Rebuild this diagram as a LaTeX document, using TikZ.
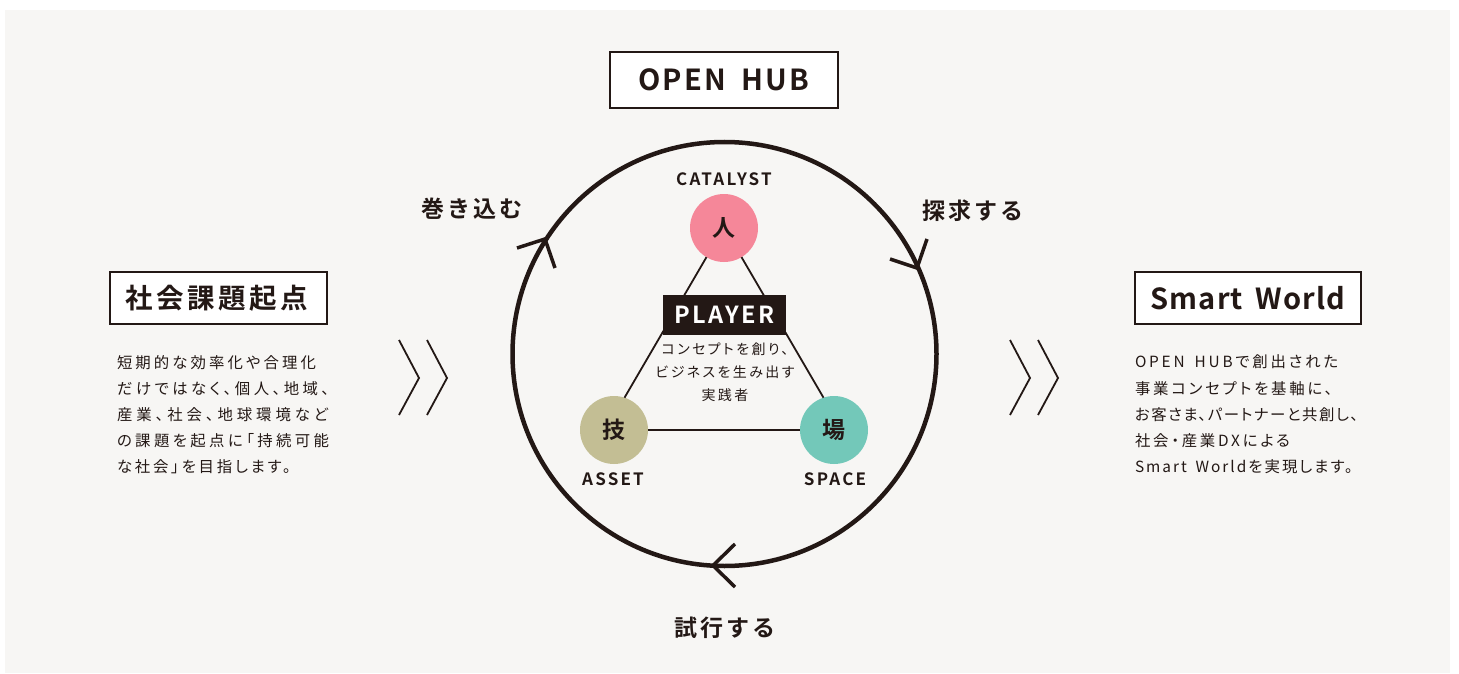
\documentclass[tikz,border=0pt]{standalone}
\usepackage{fontspec}
\setmainfont{Noto Sans CJK JP}
\newfontfamily\bodyf[LetterSpace=18,WordSpace=1.6,RawFeature=+palt]{Noto Sans CJK JP}
\newfontfamily\midf[LetterSpace=17,RawFeature=+palt]{Noto Sans CJK JP}
\newfontfamily\titlef[LetterSpace=13,BoldFont={Noto Sans CJK JP Bold}]{Noto Sans CJK JP}
\newfontfamily\playerf[LetterSpace=10,BoldFont={Noto Sans CJK JP Bold}]{Noto Sans CJK JP}
\newfontfamily\latinf[LetterSpace=8,WordSpace=1.7,BoldFont={Noto Sans CJK JP Bold}]{Noto Sans CJK JP}
\newfontfamily\worldf[LetterSpace=3.6,WordSpace=1.7,BoldFont={Noto Sans CJK JP Bold}]{Noto Sans CJK JP}
\newfontfamily\lblf[LetterSpace=12,BoldFont={Noto Sans CJK JP Bold}]{Noto Sans CJK JP}
\newfontfamily\capf[LetterSpace=13,BoldFont={Noto Sans CJK JP Bold}]{Noto Sans CJK JP}
\newcommand{\spaced}[2]{{\addfontfeature{LetterSpace=#1}#2}}
\definecolor{ink}{HTML}{231815}
\definecolor{paper}{HTML}{F7F6F4}
\definecolor{pinkc}{HTML}{F58799}
\definecolor{olivec}{HTML}{C3BE94}
\definecolor{tealc}{HTML}{73C8B9}
\tikzset{
  every node/.style={text=ink,inner sep=0pt,outer sep=0pt},
  titlebox/.style={draw=ink,line width=2.4pt,fill=white,rectangle},
  dot/.style={circle,minimum size=68pt,font=\titlef\bfseries\fontsize{23}{26}\selectfont},
  caplabel/.style={font=\capf\bfseries\fontsize{17}{20}\selectfont},
  cyclelabel/.style={font=\lblf\bfseries\fontsize{23}{26}\selectfont},
  bodytext/.style={align=left,anchor=north west,font=\bodyf\fontsize{15.4}{26.2}\selectfont},
  tie/.style={draw=ink,line width=1.8pt},
  chev/.style={draw=ink,line width=1.8pt,miter limit=10},
  ringline/.style={draw=ink,line width=4.5pt},
  head/.style={draw=ink,line width=3.5pt}
}
\begin{document}
\begin{tikzpicture}[x=1pt,y=-1pt]
\useasboundingbox (0,0) rectangle (1459,674);
\fill[white] (0,0) rectangle (1459,674);
\fill[paper] (5,10) rectangle (1450,673);

\node[titlebox,minimum width=228pt,minimum height=56pt,font=\latinf\bfseries\fontsize{29}{32}\selectfont] (hub) at (724,80) {OPEN HUB};
\node[titlebox,minimum width=217pt,minimum height=52pt,font=\titlef\bfseries\fontsize{27.5}{30}\selectfont] (social) at (218.5,298) {\hspace*{-4pt}社会課題起点};
\node[titlebox,minimum width=226pt,minimum height=52pt,font=\worldf\bfseries\fontsize{29}{32}\selectfont] (world) at (1248,298) {Smart World};

\node[bodytext] (socialtext) at (117,355) {\spaced{20}{短期的な効率化や合理化}\\\spaced{22.5}{だけではなく、個人、地域、}\\\spaced{25.5}{産業、社会、地球環境など}\\\spaced{22}{の課題を起点に「持続可能}\\\spaced{18}{な社会」を目指します。}};
\node[bodytext] (worldtext) at (1135,355) {\spaced{18}{OPEN HUBで創出された}\\\spaced{18}{事業コンセプトを基軸に、}\\\spaced{10}{お客さま、パートナーと共創し、}\\\spaced{18}{社会・産業DXによる}\\\spaced{13}{Smart Worldを実現します。}};

\draw[chev] (399,340) -- (419,378) -- (399,415);
\draw[chev] (427,340) -- (447,378) -- (427,415);
\draw[chev] (1010,340) -- (1030,378) -- (1010,415);
\draw[chev] (1038,340) -- (1058,378) -- (1038,415);

\node[circle,ringline,minimum size=424pt] (ring) at (724.5,354) {};
\draw[head] (517,248) -- (545,239) -- (555,268);
\draw[head] (890,259) -- (917,268) -- (927,239);
\draw[head] (735,544) -- (713,565.5) -- (735,587);

\node[dot,fill=pinkc] (ren) at (724,228) {人};
\node[dot,fill=olivec] (waza) at (614,430) {技};
\node[dot,fill=tealc] (ba) at (834,430) {場};
\draw[tie] (ren.239) -- (waza.72);
\draw[tie] (ren.301) -- (ba.108);
\draw[tie] (waza) -- (ba);

\node[fill=ink,minimum width=123pt,minimum height=40pt,text=white,font=\playerf\bfseries\fontsize{23.5}{27}\selectfont] (player) at (724.5,315) {PLAYER};
\node[align=center,font=\midf\fontsize{14}{23}\selectfont] (playertext) at (725,372.5) {コンセプトを創り、\\ビジネスを生み出す\\実践者};

\node[caplabel] (catalyst) at (724,179.5) {CATALYST};
\node[caplabel] (asset) at (613,479.5) {ASSET};
\node[caplabel] (space) at (835,479.5) {SPACE};

\node[cyclelabel] (maki) at (472,209) {巻き込む};
\node[cyclelabel] (tankyu) at (973,211) {探求する};
\node[cyclelabel] (shiko) at (725,627.5) {試行する};
\end{tikzpicture}
\end{document}
